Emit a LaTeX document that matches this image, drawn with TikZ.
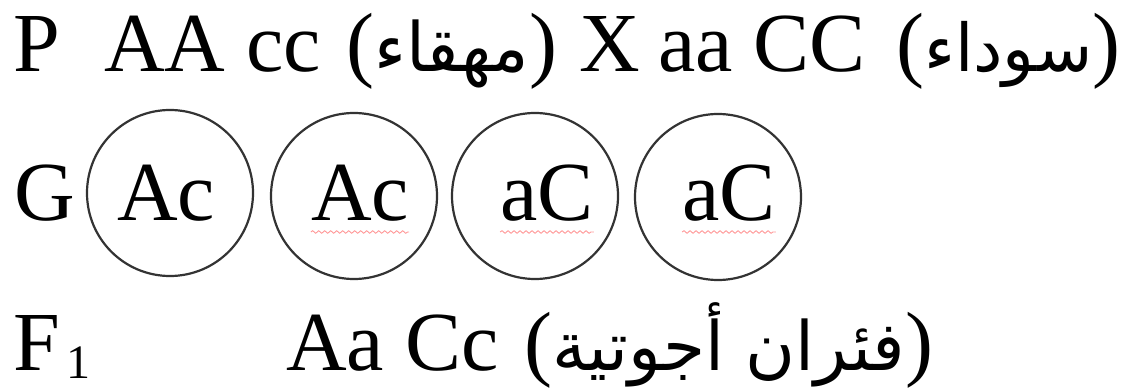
\documentclass[tikz,border=0pt]{standalone}
\usepackage{fontspec}
\setmainfont{Liberation Serif}
\newfontfamily\arabicfont[Script=Arabic]{DejaVu Sans}
\TeXXeTstate=1
\usetikzlibrary{decorations.pathmorphing}

\begin{document}
\begin{tikzpicture}[
    x=1pt,y=1pt,
    font=\fontsize{84pt}{96pt}\selectfont,
    txt/.style={anchor=base west,inner sep=0pt},
    gtxt/.style={anchor=base,inner sep=0pt},
    gam/.style={circle,draw=black!80,line width=2.2pt,minimum size=166pt,inner sep=0pt},
    wavy/.style={draw=red!40,line width=0.9pt,decorate,decoration={snake,amplitude=1.3pt,segment length=6pt}}
]
    \useasboundingbox (0,0) rectangle (1132,-390);

    % parents
    \node[txt] (plab) at (13,-72) {P};
    \node[txt] (p1a) at (104,-72) {AA cc};
    \node[txt] (p1c) at (346,-72) {({\arabicfont\fontsize{68pt}{80pt}\selectfont\beginR مهقاء\endR})};
    \node[txt] (cross) at (579,-72) {X};
    \node[txt] (p2a) at (658,-72) {aa CC};
    \node[txt] (p2c) at (896,-72) {({\arabicfont\fontsize{66pt}{80pt}\selectfont\beginR سوداء\endR})};

    % gametes
    \node[txt] (glab) at (14,-220) {G};
    \node[gam] (g1) at (170,-193) {};
    \node[gam] (g2) at (354,-196) {};
    \node[gam] (g3) at (535,-196) {};
    \node[gam] (g4) at (718,-197) {};
    \node[gtxt] (t1) at (166,-220) {Ac};
    \node[gtxt] (t2) at (360,-220) {Ac};
    \node[gtxt] (t3) at (547,-220) {aC};
    \node[gtxt] (t4) at (729,-220) {aC};
    \draw[wavy] ([yshift=-12pt]t2.base west) -- ([yshift=-12pt]t2.base east);
    \draw[wavy] ([yshift=-12pt]t3.base west) -- ([yshift=-12pt]t3.base east);
    \draw[wavy] ([yshift=-12pt]t4.base west) -- ([yshift=-12pt]t4.base east);

    % offspring
    \node[txt] (flab) at (13,-370) {F};
    \node[txt,font=\fontsize{48pt}{54pt}\selectfont] (fsub) at (66,-378) {1};
    \node[txt] (f1a) at (286,-370) {Aa Cc};
    \node[txt] (f1b) at (524,-370) {({\arabicfont\fontsize{68pt}{80pt}\selectfont\beginR فئران أجوتية\endR})};
\end{tikzpicture}
\end{document}
